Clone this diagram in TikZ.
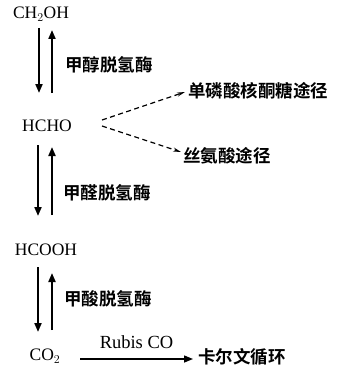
\documentclass[tikz,border=0pt]{standalone}
\usepackage{fontspec}
\setmainfont{Liberation Serif}
\newfontfamily\cjk{Noto Sans CJK SC}[BoldFont={* Bold}]
\usetikzlibrary{arrows.meta}
\tikzset{
  chem/.style={inner sep=0pt, font=\fontsize{17.5}{17.5}\selectfont},
  enz/.style={inner sep=0pt, font=\cjk\bfseries\fontsize{17.5}{18}\selectfont},
  rxn/.style={line width=2pt, -{Triangle[length=9pt,width=7pt]}},
  side/.style={line width=1.2pt, dash pattern=on 5pt off 3.5pt, -{Stealth[length=8pt,width=4pt]}},
  fix/.style={line width=1.4pt, -{Triangle[length=9pt,width=7pt]}}
}
\begin{document}
\begin{tikzpicture}[x=1pt,y=-1pt]
\useasboundingbox (0,0) rectangle (339,369);
\node[chem] (m1) at (41,14) {CH$_{2}$OH};
\node[chem] (m2) at (47,126) {HCHO};
\node[chem] (m3) at (46,250) {HCOOH};
\node[chem] (m4) at (45,356) {CO$_{2}$};
\node[enz] (l1) at (109,65) {甲醇脱氢酶};
\node[enz] (l2) at (107,193) {甲醛脱氢酶};
\node[enz] (l3) at (108,299) {甲酸脱氢酶};
\node[enz, anchor=west] (p1) at (188,91) {单磷酸核酮糖途径};
\node[enz, anchor=west] (p2) at (183,156) {丝氨酸途径};
\node[enz, anchor=west] (k) at (198,357) {卡尔文循环};
% vertical reversible arrows
\draw[rxn] ([shift={(-2,14)}]m1.center) -- ([shift={(-8,-33)}]m2.center);
\draw[rxn] ([shift={(5,-33)}]m2.center) -- ([shift={(11,16)}]m1.center);
\draw[rxn] ([shift={(-9,19)}]m2.center) -- ([shift={(-8,-34)}]m3.center);
\draw[rxn] ([shift={(6,-35)}]m3.center) -- ([shift={(5,21)}]m2.center);
\draw[rxn] ([shift={(-8,17)}]m3.center) -- ([shift={(-7,-24)}]m4.center);
\draw[rxn] ([shift={(7,-26)}]m4.center) -- ([shift={(6,23)}]m3.center);
% side pathways
\draw[side] ([shift={(55,-6)}]m2.center) -- ([shift={(-3,1)}]p1.west);
\draw[side] ([shift={(55,0)}]m2.center) -- ([shift={(-2,-4)}]p2.west);
% Calvin cycle
\draw[fix] ([shift={(35,3)}]m4.center) -- node[chem, midway, yshift=17pt, font=\fontsize{18.5}{18.5}\selectfont] (r) {Rubis CO} ([shift={(-5,2)}]k.west);
\end{tikzpicture}
\end{document}
